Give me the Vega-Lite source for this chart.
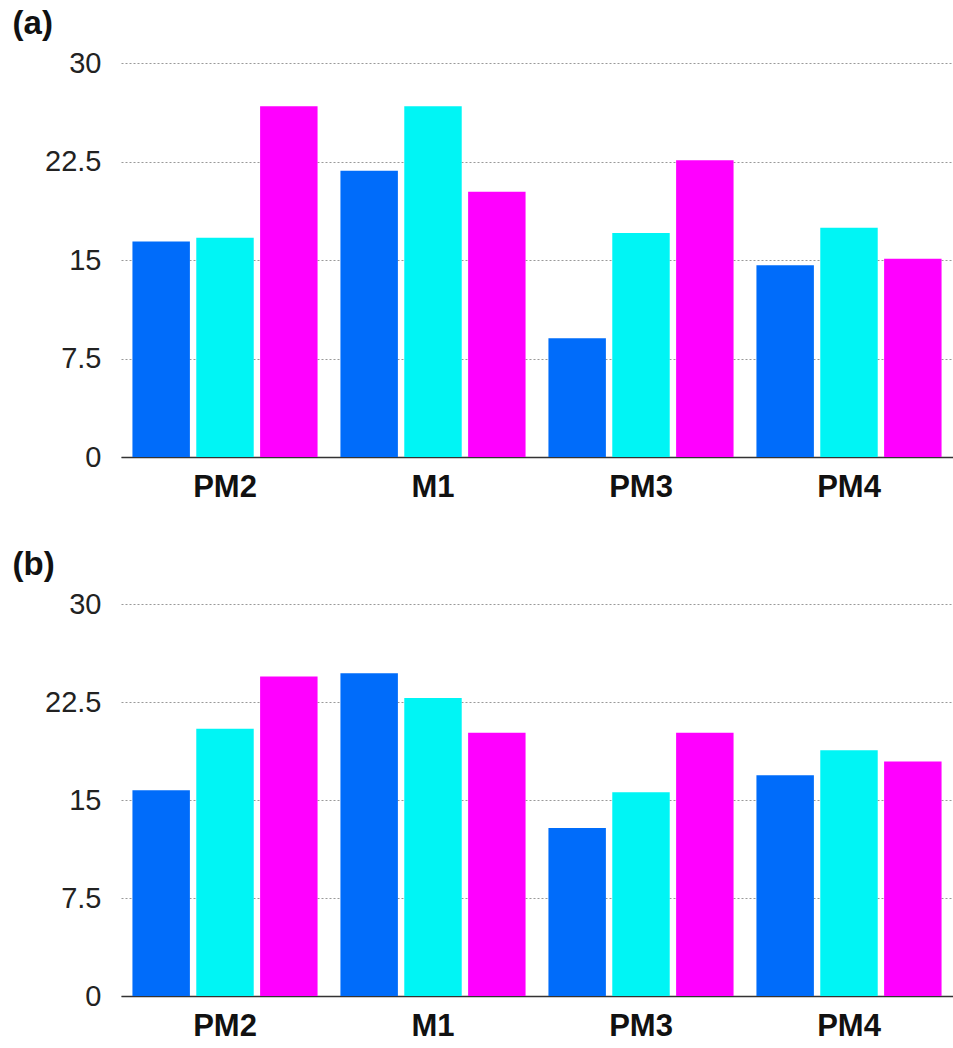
{
  "$schema": "https://vega.github.io/schema/vega-lite/v6.json",
  "padding": {"left": 12, "top": 8, "right": 0, "bottom": 0},
  "background": "white",
  "config": {
    "view": {"stroke": null},
    "font": "Liberation Sans",
    "title": {"anchor": "start", "fontSize": 33, "fontWeight": "bold", "color": "#111", "frame": "bounds", "offset": 8},
    "concat": {"spacing": 47}
  },
  "data": {
    "values": [
      {"panel": "a", "group": "PM2", "series": "s1", "value": 16.4},
      {"panel": "a", "group": "PM2", "series": "s2", "value": 16.7},
      {"panel": "a", "group": "PM2", "series": "s3", "value": 26.7},
      {"panel": "a", "group": "M1", "series": "s1", "value": 21.8},
      {"panel": "a", "group": "M1", "series": "s2", "value": 26.7},
      {"panel": "a", "group": "M1", "series": "s3", "value": 20.2},
      {"panel": "a", "group": "PM3", "series": "s1", "value": 9.05},
      {"panel": "a", "group": "PM3", "series": "s2", "value": 17.05},
      {"panel": "a", "group": "PM3", "series": "s3", "value": 22.6},
      {"panel": "a", "group": "PM4", "series": "s1", "value": 14.6},
      {"panel": "a", "group": "PM4", "series": "s2", "value": 17.45},
      {"panel": "a", "group": "PM4", "series": "s3", "value": 15.1},
      {"panel": "b", "group": "PM2", "series": "s1", "value": 15.75},
      {"panel": "b", "group": "PM2", "series": "s2", "value": 20.45},
      {"panel": "b", "group": "PM2", "series": "s3", "value": 24.45},
      {"panel": "b", "group": "M1", "series": "s1", "value": 24.7},
      {"panel": "b", "group": "M1", "series": "s2", "value": 22.8},
      {"panel": "b", "group": "M1", "series": "s3", "value": 20.15},
      {"panel": "b", "group": "PM3", "series": "s1", "value": 12.85},
      {"panel": "b", "group": "PM3", "series": "s2", "value": 15.6},
      {"panel": "b", "group": "PM3", "series": "s3", "value": 20.15},
      {"panel": "b", "group": "PM4", "series": "s1", "value": 16.9},
      {"panel": "b", "group": "PM4", "series": "s2", "value": 18.8},
      {"panel": "b", "group": "PM4", "series": "s3", "value": 17.95}
    ]
  },
  "vconcat": [
    {
      "title": {"text": "(a)", "dx": -32},
      "width": 832,
      "height": 394,
      "transform": [{"filter": "datum.panel === 'a'"}],
      "mark": {"type": "bar"},
      "encoding": {
        "x": {"field": "group", "type": "nominal", "sort": ["PM2", "M1", "PM3", "PM4"], "scale": {"paddingInner": 0.11, "paddingOuter": 0.055},
          "axis": {"title": null, "domain": true, "domainColor": "#333", "domainWidth": 1.5, "ticks": false, "labelFontSize": 31, "labelFontWeight": "bold", "labelColor": "#111", "labelPadding": 15, "labelAngle": 0}},
        "xOffset": {"field": "series", "type": "nominal", "scale": {"paddingInner": 0.1, "paddingOuter": 0}},
        "y": {"field": "value", "type": "quantitative", "scale": {"domain": [0, 30], "nice": false},
          "axis": {"title": null, "domain": false, "ticks": false, "values": [0, 7.5, 15, 22.5, 30], "labelExpr": "'' + datum.value", "labelFontSize": 29, "labelColor": "#222", "labelPadding": 20, "gridColor": "#999", "gridDash": [2, 2], "gridWidth": 1}},
        "color": {"field": "series", "type": "nominal", "scale": {"domain": ["s1", "s2", "s3"], "range": ["#006cfa", "#00f5f5", "#ff00ff"]}, "legend": null}
      }
    },
    {
      "title": {"text": "(b)", "dx": -32},
      "width": 832,
      "height": 392,
      "transform": [{"filter": "datum.panel === 'b'"}],
      "mark": {"type": "bar"},
      "encoding": {
        "x": {"field": "group", "type": "nominal", "sort": ["PM2", "M1", "PM3", "PM4"], "scale": {"paddingInner": 0.11, "paddingOuter": 0.055},
          "axis": {"title": null, "domain": true, "domainColor": "#333", "domainWidth": 1.5, "ticks": false, "labelFontSize": 31, "labelFontWeight": "bold", "labelColor": "#111", "labelPadding": 15, "labelAngle": 0}},
        "xOffset": {"field": "series", "type": "nominal", "scale": {"paddingInner": 0.1, "paddingOuter": 0}},
        "y": {"field": "value", "type": "quantitative", "scale": {"domain": [0, 30], "nice": false},
          "axis": {"title": null, "domain": false, "ticks": false, "values": [0, 7.5, 15, 22.5, 30], "labelExpr": "'' + datum.value", "labelFontSize": 29, "labelColor": "#222", "labelPadding": 20, "gridColor": "#999", "gridDash": [2, 2], "gridWidth": 1}},
        "color": {"field": "series", "type": "nominal", "scale": {"domain": ["s1", "s2", "s3"], "range": ["#006cfa", "#00f5f5", "#ff00ff"]}, "legend": null}
      }
    }
  ]
}
